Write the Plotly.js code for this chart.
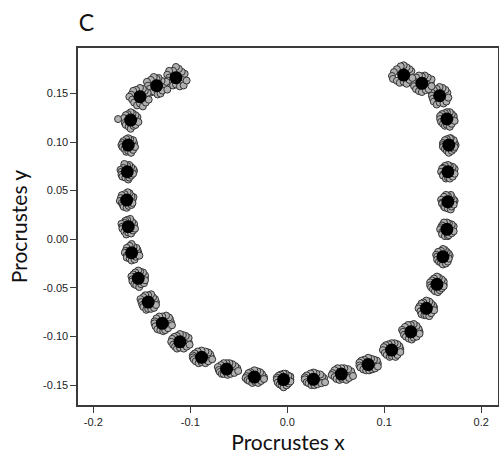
<!DOCTYPE html>
<html>
<head>
<meta charset="utf-8">
<script src="https://cdn.plot.ly/plotly-3.0.1.min.js"></script>
<style>
  html, body { margin: 0; padding: 0; background: #ffffff; }
  #chart { width: 499px; height: 468px; }
</style>
</head>
<body>
<div id="chart"></div>
<script>
// Mean landmark configuration (Procrustes coordinates), in order around the outline
const meanX = [-0.1148, -0.1347, -0.1519, -0.1615, -0.1640, -0.1650, -0.1656, -0.1640, -0.1605, -0.1537,
               -0.1434, -0.1289, -0.1107, -0.0884, -0.0626, -0.0340, -0.0038, 0.0270, 0.0558, 0.0834,
               0.1076, 0.1274, 0.1434, 0.1543, 0.1605, 0.1646, 0.1656, 0.1656, 0.1666, 0.1646,
               0.1571, 0.1388, 0.1200];
const meanY = [0.1662, 0.1579, 0.1466, 0.1226, 0.0969, 0.0694, 0.0403, 0.0129, -0.0139, -0.0402,
               -0.0646, -0.0865, -0.1055, -0.1215, -0.1335, -0.1418, -0.1443, -0.1441, -0.1387, -0.1289,
               -0.1140, -0.0952, -0.0711, -0.0464, -0.0180, 0.0102, 0.0386, 0.0694, 0.0969, 0.1237,
               0.1476, 0.1604, 0.1689];

// Specimen deviations from each mean landmark, in thousandths of a Procrustes unit: [dx, dy]
const specimenOffsets = [
  [[7,0],[9,4],[6,6],[3,9],[0,11],[-3,7],[-7,7],[-9,3],[-7,0],[-8,-3],[-5,-5],[-3,-8],[0,-7],[4,-9],[8,-8],[11,-3]],
  [[8,1],[10,4],[5,5],[2,8],[0,7],[-3,9],[-6,6],[-10,4],[-9,0],[-7,-3],[-6,-7],[-3,-6],[1,-9],[4,-8],[6,-5],[11,-4]],
  [[7,1],[8,4],[5,6],[3,8],[0,9],[-4,7],[-7,6],[-9,2],[-11,0],[-8,-3],[-6,-6],[-3,-9],[0,-7],[3,-10],[6,-6],[9,-3]],
  [[6,0],[7,3],[5,5],[2,7],[0,8],[-3,6],[-5,5],[-7,2],[-13,1],[-6,-3],[-5,-5],[-2,-7],[0,-9],[3,-6],[5,-5],[8,-2]],
  [[6,0],[6,2],[5,5],[2,6],[0,7],[-2,6],[-5,4],[-6,2],[-7,0],[-6,-2],[-4,-4],[-2,-7],[0,-6],[3,-8],[5,-5],[7,-2]],
  [[7,1],[6,3],[4,5],[2,7],[0,6],[-3,8],[-4,4],[-7,2],[-6,0],[-6,-3],[-5,-5],[-2,-6],[1,-8],[2,-6],[4,-4],[6,-2]],
  [[6,0],[7,3],[5,4],[3,7],[1,8],[-2,6],[-5,5],[-6,2],[-7,-1],[-5,-3],[-4,-5],[-3,-7],[0,-8],[2,-6],[5,-5],[6,-3]],
  [[6,1],[6,3],[4,5],[2,8],[-1,7],[-3,6],[-4,4],[-7,3],[-6,0],[-6,-2],[-4,-5],[-2,-8],[0,-6],[3,-7],[5,-4],[7,-2]],
  [[7,0],[6,3],[5,5],[2,6],[0,9],[-2,7],[-5,5],[-6,2],[-7,0],[-5,-3],[-5,-5],[-2,-6],[0,-8],[3,-7],[4,-4],[8,-3]],
  [[7,1],[7,3],[5,6],[2,7],[0,8],[-3,6],[-5,4],[-7,2],[-6,-1],[-6,-3],[-4,-6],[-2,-7],[1,-9],[3,-6],[6,-5],[7,-2]],
  [[8,0],[7,3],[5,5],[3,8],[0,7],[-3,7],[-5,5],[-8,3],[-7,0],[-6,-3],[-5,-5],[-2,-8],[0,-7],[3,-7],[6,-6],[8,-3]],
  [[9,1],[8,4],[7,6],[4,8],[0,7],[-3,7],[-6,5],[-8,2],[-8,0],[-7,-3],[-5,-6],[-2,-7],[1,-8],[3,-7],[6,-5],[10,-2]],
  [[9,0],[9,4],[6,6],[3,7],[0,8],[-3,6],[-6,5],[-8,3],[-9,0],[-7,-3],[-5,-5],[-3,-7],[0,-6],[4,-7],[7,-5],[10,-3]],
  [[10,0],[9,3],[7,5],[4,6],[0,7],[-4,6],[-7,4],[-9,2],[-9,0],[-8,-2],[-6,-4],[-3,-6],[0,-5],[4,-6],[7,-4],[11,-2]],
  [[11,1],[9,3],[6,5],[3,6],[0,6],[-3,6],[-6,4],[-9,2],[-8,-1],[-7,-3],[-5,-5],[-3,-5],[1,-6],[4,-5],[8,-4],[12,-2]],
  [[10,0],[8,3],[6,5],[3,6],[0,7],[-4,5],[-6,4],[-8,1],[-9,-1],[-7,-3],[-5,-4],[-2,-6],[1,-5],[4,-6],[7,-4],[10,-2]],
  [[7,0],[7,3],[5,4],[2,6],[0,6],[-3,5],[-5,4],[-7,2],[-7,0],[-6,-3],[-4,-5],[-2,-6],[0,-8],[3,-6],[5,-4],[7,-2]],
  [[11,1],[9,3],[7,5],[3,6],[0,7],[-3,6],[-7,4],[-9,2],[-9,0],[-7,-3],[-5,-4],[-2,-6],[1,-6],[4,-5],[8,-4],[12,-3]],
  [[11,0],[10,3],[7,5],[3,6],[0,6],[-4,6],[-7,4],[-9,1],[-10,-1],[-7,-3],[-5,-5],[-2,-6],[1,-5],[5,-6],[8,-4],[12,-2]],
  [[10,1],[9,4],[6,5],[3,6],[0,7],[-4,5],[-7,4],[-9,2],[-9,-1],[-8,-3],[-5,-5],[-2,-6],[1,-6],[4,-5],[7,-4],[10,-2]],
  [[9,1],[8,4],[6,6],[3,7],[0,7],[-3,6],[-6,5],[-8,3],[-9,0],[-7,-3],[-5,-5],[-2,-7],[0,-6],[4,-7],[6,-5],[9,-2]],
  [[9,0],[8,3],[6,6],[3,8],[0,7],[-3,7],[-6,5],[-9,2],[-8,0],[-7,-3],[-5,-5],[-2,-7],[1,-8],[3,-6],[6,-5],[9,-2]],
  [[8,1],[7,3],[5,5],[3,7],[0,8],[-3,6],[-5,5],[-7,2],[-8,0],[-6,-3],[-5,-6],[-2,-7],[0,-7],[3,-8],[5,-5],[8,-2]],
  [[7,0],[7,3],[5,5],[2,7],[0,8],[-3,6],[-5,4],[-7,2],[-7,-1],[-6,-3],[-4,-5],[-2,-7],[1,-8],[3,-6],[5,-4],[7,-2]],
  [[7,1],[6,3],[4,5],[2,7],[0,8],[-2,6],[-5,5],[-7,2],[-6,0],[-6,-3],[-4,-5],[-2,-6],[0,-8],[3,-7],[5,-5],[6,-2]],
  [[6,0],[7,3],[5,5],[2,6],[0,7],[-3,7],[-5,4],[-6,2],[-7,0],[-5,-3],[-5,-5],[-2,-7],[1,-7],[2,-6],[5,-4],[7,-2]],
  [[7,1],[6,2],[4,5],[3,7],[0,6],[-2,7],[-4,5],[-7,2],[-6,-1],[-6,-2],[-4,-5],[-3,-6],[0,-7],[3,-8],[4,-5],[6,-3]],
  [[6,0],[7,3],[5,5],[2,6],[0,7],[-3,6],[-5,4],[-6,3],[-7,0],[-5,-3],[-5,-4],[-2,-7],[0,-6],[2,-7],[5,-5],[7,-2]],
  [[7,0],[6,2],[5,5],[2,7],[1,7],[-2,6],[-4,5],[-6,2],[-6,0],[-6,-2],[-4,-4],[-2,-6],[0,-8],[3,-6],[5,-4],[6,-2]],
  [[7,1],[7,3],[5,5],[3,7],[0,7],[-2,6],[-5,5],[-7,3],[-7,0],[-6,-3],[-4,-5],[-2,-7],[0,-6],[3,-8],[5,-5],[8,-2]],
  [[8,0],[8,3],[6,6],[3,8],[0,9],[-3,7],[-6,6],[-8,3],[-8,0],[-7,-3],[-6,-6],[-3,-9],[0,-7],[4,-8],[7,-6],[9,-2]],
  [[9,1],[10,4],[6,6],[3,8],[0,7],[-3,8],[-6,6],[-9,3],[-9,0],[-8,-3],[-6,-6],[-3,-8],[0,-9],[4,-7],[7,-6],[10,-3]],
  [[7,0],[8,4],[6,6],[3,8],[0,10],[-3,9],[-7,6],[-10,3],[-12,-1],[-11,-4],[-7,-6],[-4,-8],[0,-7],[3,-9],[6,-5],[9,-3]]
];

// Axis ticks
const xTicks = [-0.2, -0.1, 0.0, 0.1, 0.2];
const xTickLabels = ['-0.2', '-0.1', '0.0', '0.1', '0.2'];
const yTicks = [-0.15, -0.10, -0.05, 0.00, 0.05, 0.10, 0.15];
const yTickLabels = ['-0.15', '-0.10', '-0.05', '0.00', '0.05', '0.10', '0.15'];

// Expand the specimen cloud into absolute coordinates
const specX = [], specY = [];
specimenOffsets.forEach((pts, i) => {
  pts.forEach(([dx, dy]) => {
    specX.push(meanX[i] + dx / 1000);
    specY.push(meanY[i] + dy / 1000);
  });
});

const specimens = {
  type: 'scatter', mode: 'markers',
  x: specX, y: specY,
  marker: { size: 7, color: '#b0b0b0', line: { color: '#333333', width: 1 } },
  hoverinfo: 'skip', showlegend: false
};

const means = {
  type: 'scatter', mode: 'markers',
  x: meanX, y: meanY,
  marker: { size: 13, color: '#000000', line: { width: 0 } },
  showlegend: false
};

const axisBase = {
  showline: true, mirror: true, linecolor: '#3a3a3a', linewidth: 1.6,
  showgrid: false, zeroline: false,
  ticks: 'outside', ticklen: 6, tickwidth: 1, tickcolor: '#3a3a3a',
  tickfont: { family: 'Liberation Sans, Arial, sans-serif', size: 11, color: '#222222' },
  tickmode: 'array'
};

const layout = {
  width: 499, height: 468,
  margin: { l: 78, r: 1, t: 48, b: 63 },
  paper_bgcolor: '#ffffff', plot_bgcolor: '#ffffff',
  title: {
    text: 'C', x: 0.158, xanchor: 'left', xref: 'container',
    y: 0.952, yanchor: 'middle', yref: 'container',
    font: { family: 'Lato, Open Sans, sans-serif', size: 23, color: '#111111' }
  },
  xaxis: Object.assign({}, axisBase, {
    range: [-0.2158, 0.2173],
    tickvals: xTicks, ticktext: xTickLabels,
    title: { text: 'Procrustes x', standoff: 8,
             font: { family: 'Lato, Open Sans, sans-serif', size: 21, color: '#111111' } }
  }),
  yaxis: Object.assign({}, axisBase, {
    range: [-0.1705, 0.1967],
    tickvals: yTicks, ticktext: yTickLabels,
    title: { text: 'Procrustes y', standoff: 10,
             font: { family: 'Lato, Open Sans, sans-serif', size: 21, color: '#111111' } }
  })
};

Plotly.newPlot('chart', [specimens, means], layout, { displayModeBar: false, staticPlot: true });
</script>
</body>
</html>
